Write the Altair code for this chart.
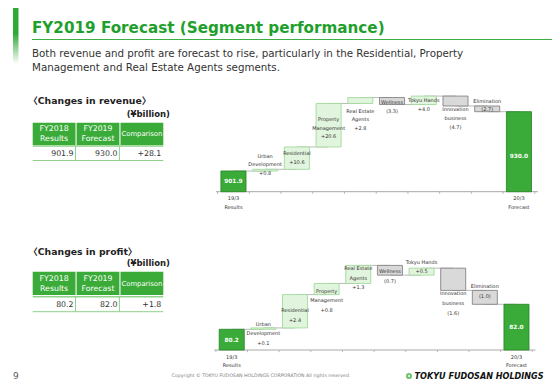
import altair as alt
import pandas as pd

# ------------------------------------------------------------------ data
segment_lines = [["19/3", "Results"], ["Urban", "Development"], ["Residential"],
                 ["Property", "Management"], ["Real Estate", "Agents"], ["Wellness"],
                 ["Tokyu Hands"], ["Innovation", "business"], ["Elimination"],
                 ["20/3", "Forecast"]]
revenue_steps = [901.9, 0.8, 10.6, 20.6, 2.8, -3.3, 4.0, -4.7, -2.7, 930.0]
profit_steps = [80.2, 0.1, 2.4, 0.8, 1.3, -0.7, 0.5, -1.6, -1.0, 82.0]

table_columns = ["FY2018\nResults", "FY2019\nForecast", "Comparison"]
revenue_table = ["901.9", "930.0", "+28.1"]
profit_table = ["80.2", "82.0", "+1.8"]

title = "FY2019 Forecast (Segment performance)"
subtitle = ("Both revenue and profit are forecast to rise, particularly in the Residential, Property\n"
            "Management and Real Estate Agents segments.")

# ------------------------------------------------------------------ layout / style
M = 8            # page margin of the output page (slide coords -> chart coords)
W, H = 544, 372
FONT = "DejaVu Sans, Noto Sans CJK JP"
GREEN = "#3aab38"
GREEN_DARK = "#2b8a2a"
POS_FILL, POS_STROKE = "#e1f4dd", "#a3da9c"
NEG_FILL, NEG_STROKE = "#d9d9d9", "#858585"
GREY_LINE = "#a8a8a8"
TEXT = "#333333"

rev_layout = dict(
    x_range=[217.6, 534.8], y_domain=[892.1, 930.0], y_range=[191.7, 111.7],
    offsets={1: [-13.3, -5.3, 4.0], 2: [6.4, 14.8], 3: [16.0, 24.3, 32.6],
             4: [13.2, 21.5, 30.2], 5: [4.5, 13.2], 6: [4.0, 13.0],
             7: [13.0, 22.3, 30.7], 8: [-5.3, 3.3]},
    total_offsets=[9.7, 44.0])
prof_layout = dict(
    x_range=[215.9, 532.3], y_domain=[78.71, 82.0], y_range=[350.0, 304.3],
    offsets={1: [-3.9, 5.4, 15.4], 2: [15.4, 25.4], 3: [7.8, 16.5, 26.5],
             4: [2.9, 12.3, 21.3], 5: [5.3, 15.3], 6: [-6.5, 2.5],
             7: [25.0, 35.0, 45.0], 8: [-4.4, 5.3]},
    total_offsets=[10.7, 23.0])

rev_table_layout = dict(head=(122.7, 145.0), row=(146.0, 160.5), heading_y=101.0, unit_y=114.0)
prof_table_layout = dict(head=(271.7, 295.0), row=(296.7, 311.7), heading_y=251.7, unit_y=263.3)


def fmt_step(v):
    return f"+{v:.1f}" if v >= 0 else f"({-v:.1f})"


def waterfall(steps, lay):
    d0, d1 = lay["y_domain"]
    yr0, yr1 = [v - M for v in lay["y_range"]]
    xr = [v - M for v in lay["x_range"]]
    ppu = (yr0 - yr1) / (d1 - d0)
    xs = alt.Scale(domain=[-0.5, 9.5], range=xr, nice=False, zero=False)
    ys = alt.Scale(domain=[d0, d1], range=[yr0, yr1], nice=False, zero=False)
    hw = 0.395
    n = len(steps)
    bars, conns, labels, totals = [], [], [], []
    cum = steps[0]
    bars.append(dict(xa=-hw, xb=hw, lo=d0, hi=steps[0], fill=GREEN, stroke=GREEN_DARK))
    conns.append(dict(xa=0, xb=1, level=cum))
    for i in range(1, n - 1):
        v = steps[i]
        start, end = cum, cum + v
        cum = end
        pos = v >= 0
        bars.append(dict(xa=i - hw, xb=i + hw, lo=start, hi=end,
                         fill=POS_FILL if pos else NEG_FILL,
                         stroke=POS_STROKE if pos else NEG_STROKE))
        conns.append(dict(xa=i, xb=i + 1, level=cum))
        top = max(start, end)
        lines = segment_lines[i] + [fmt_step(v)]
        for txt, off in zip(lines, lay["offsets"][i]):
            labels.append(dict(x=i, y=top - off / ppu, t=txt))
    bars.append(dict(xa=n - 1 - hw, xb=n - 1 + hw, lo=d0, hi=steps[-1], fill=GREEN, stroke=GREEN_DARK))
    for idx, off in zip([0, n - 1], lay["total_offsets"]):
        totals.append(dict(x=idx, y=steps[idx] - off / ppu, t=f"{steps[idx]:.1f}"))
    axis_df = pd.DataFrame([dict(xa=-0.55, xb=n - 0.4, level=d0)])
    ticks_df = pd.DataFrame([dict(x=k + 0.5, y=d0, y2=d0 - 2.2 / ppu) for k in range(-1, n)])
    axlab_df = pd.DataFrame([dict(x=0, y=d0, t="\n".join(segment_lines[0])),
                             dict(x=n - 1, y=d0, t="\n".join(segment_lines[-1]))])

    X = lambda f: alt.X(f, type="quantitative", scale=xs, axis=None)
    Y = lambda f: alt.Y(f, type="quantitative", scale=ys, axis=None)

    axis_line = alt.Chart(axis_df).mark_rule(color=GREY_LINE, strokeWidth=1).encode(
        x=X("xa"), x2="xb", y=Y("level"))
    tick = alt.Chart(ticks_df).mark_rule(color=GREY_LINE, strokeWidth=0.8).encode(
        x=X("x"), y=Y("y"), y2="y2")
    conn = alt.Chart(pd.DataFrame(conns)).mark_rule(color=GREY_LINE, strokeWidth=0.8).encode(
        x=X("xa"), x2="xb", y=Y("level"))
    rect = alt.Chart(pd.DataFrame(bars)).mark_rect(strokeWidth=0.9).encode(
        x=X("xa"), x2="xb", y=Y("lo"), y2="hi",
        fill=alt.Fill("fill:N", scale=None), stroke=alt.Stroke("stroke:N", scale=None))
    lab = alt.Chart(pd.DataFrame(labels)).mark_text(
        font=FONT, fontSize=5.0, color=TEXT, baseline="middle", align="center").encode(
        x=X("x"), y=Y("y"), text="t:N")
    tot = alt.Chart(pd.DataFrame(totals)).mark_text(
        font=FONT, fontSize=5.8, fontWeight="bold", color="white", baseline="middle").encode(
        x=X("x"), y=Y("y"), text="t:N")
    axl = alt.Chart(axlab_df).mark_text(
        font=FONT, fontSize=5.0, color=TEXT, baseline="middle", dy=6.6, lineBreak="\n",
        lineHeight=8.4).encode(x=X("x"), y=Y("y"), text="t:N")
    return alt.layer(axis_line, conn, rect, tick, lab, tot, axl)


def table(values, lay, heading):
    xs = alt.Scale(domain=table_columns, range=[32.7 - M, 163.3 - M], paddingInner=0.025, paddingOuter=0)
    h0, h1 = [v - M for v in lay["head"]]
    r0, r1 = [v - M for v in lay["row"]]
    hc = (h0 + h1) / 2 + 0.5
    nlines = [c.count("\n") + 1 for c in table_columns]
    head_df = pd.DataFrame(dict(col=table_columns,
                                fs=[7.8 if k > 1 else 6.8 for k in nlines],
                                ty=[hc - (k - 1) * 5 for k in nlines]))
    val_df = pd.DataFrame(dict(col=table_columns, val=values))
    XC = alt.X("col:N", scale=xs, axis=None)
    head_rect = alt.Chart(head_df).mark_rect(color=GREEN).encode(
        x=XC, y=alt.value(h0), y2=alt.value(h1))
    head_txt = alt.Chart(head_df).mark_text(
        font=FONT, color="white", baseline="middle", lineBreak="\n", lineHeight=10).encode(
        x=XC, y=alt.Y("ty:Q", scale=None), text="col:N", size=alt.Size("fs:Q", scale=None))
    hline = alt.Chart(pd.DataFrame(dict(y=[r0, r1], w=[1.4, 1.0]))).mark_rule(color="#8fd189").encode(
        x=alt.value(32.7 - M), x2=alt.value(163.3 - M), y=alt.Y("y:Q", scale=None),
        strokeWidth=alt.StrokeWidth("w:Q", scale=None))
    vline = alt.Chart(val_df.iloc[:2]).mark_rule(color="#8fd189", strokeWidth=1).encode(
        x=alt.X("col:N", scale=xs, axis=None, bandPosition=1), y=alt.value(r0), y2=alt.value(r1))
    val_txt = alt.Chart(val_df).mark_text(
        font=FONT, fontSize=7.8, color=TEXT, align="right", baseline="middle", dx=-2).encode(
        x=alt.X("col:N", scale=xs, axis=None, bandPosition=1), y=alt.value((r0 + r1) / 2 + 0.5),
        text="val:N")
    head_line = alt.Chart(pd.DataFrame(dict(t=[heading]))).mark_text(
        font=FONT, fontSize=9.3, fontWeight="bold", color="#222222", align="left", baseline="middle").encode(
        x=alt.value(20.5), y=alt.value(lay["heading_y"] - M), text="t:N")
    unit = alt.Chart(pd.DataFrame(dict(t=["(¥billion)"]))).mark_text(
        font=FONT, fontSize=8.5, fontWeight="bold", color="#222222", align="right", baseline="middle").encode(
        x=alt.value(170 - M), y=alt.value(lay["unit_y"] - M), text="t:N")
    return alt.layer(head_rect, head_txt, hline, vline, val_txt, head_line, unit)


# ------------------------------------------------------------------ slide header / footer
one = pd.DataFrame(dict(t=[title]))
side_bar = alt.Chart(one).mark_rect(
    fill=alt.Gradient(gradient="linear", x1=0, x2=0, y1=0, y2=1,
                      stops=[alt.GradientStop(color="#2fa838", offset=0),
                             alt.GradientStop(color="#2fa838", offset=0.45),
                             alt.GradientStop(color="#ffffff", offset=1)])).encode(
    x=alt.value(5), x2=alt.value(10.5), y=alt.value(0), y2=alt.value(56))
title_txt = alt.Chart(one).mark_text(
    font=FONT, fontSize=15.2, fontWeight="bold", color="#1f9f2c", align="left",
    baseline="alphabetic").encode(x=alt.value(24), y=alt.value(25), text="t:N")
title_rule = alt.Chart(one).mark_rule(color="#3cae44", strokeWidth=1.2).encode(
    x=alt.value(24), x2=alt.value(W), y=alt.value(31.5))
sub_txt = alt.Chart(pd.DataFrame(dict(t=[subtitle]))).mark_text(
    font=FONT, fontSize=10.3, color="#333333", align="left", baseline="alphabetic",
    lineBreak="\n", lineHeight=14.7).encode(x=alt.value(24), y=alt.value(48.5), text="t:N")

page_no = alt.Chart(pd.DataFrame(dict(t=["9"]))).mark_text(
    font=FONT, fontSize=9, color="#595959", align="left", baseline="middle").encode(
    x=alt.value(5), y=alt.value(367.5), text="t:N")
copyright_txt = alt.Chart(pd.DataFrame(dict(t=["Copyright \u00a9 TOKYU FUDOSAN HOLDINGS CORPORATION All rights reserved."]))).mark_text(
    font=FONT, fontSize=4.7, color="#808080", align="center", baseline="middle").encode(
    x=alt.value(253), y=alt.value(368), text="t:N")
logo_ring = alt.Chart(one).mark_point(shape="circle", filled=False, stroke="#3aab38",
                                      strokeWidth=2.2, size=16).encode(
    x=alt.value(401), y=alt.value(368))
logo_txt = alt.Chart(pd.DataFrame(dict(t=["TOKYU FUDOSAN HOLDINGS"]))).mark_text(
    font=FONT, fontSize=8.1, fontWeight="bold", fontStyle="italic", color="#111111",
    align="left", baseline="middle").encode(x=alt.value(406.5), y=alt.value(368.5), text="t:N")

chart = alt.layer(
    side_bar, title_txt, title_rule, sub_txt,
    table(revenue_table, rev_table_layout, "\u3008Changes in revenue\u3009"),
    table(profit_table, prof_table_layout, "\u3008Changes in profit\u3009"),
    waterfall(revenue_steps, rev_layout),
    waterfall(profit_steps, prof_layout),
    page_no, copyright_txt, logo_ring, logo_txt,
).resolve_scale(x="independent", y="independent").properties(
    width=W, height=H, padding=0, autosize=alt.AutoSizeParams(type="none"),
    background="white",
).configure_view(stroke=None)

chart.save("out.html", embed_options={"renderer": "svg", "actions": False})
